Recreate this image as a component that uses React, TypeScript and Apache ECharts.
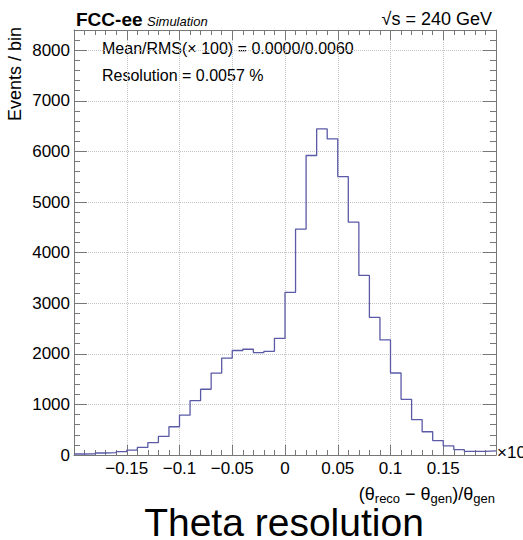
import React, { useEffect, useRef } from "react";
import * as echarts from "echarts";

// ---- data ----
const binLowEdges = [
  -0.2, -0.19, -0.18, -0.17, -0.16, -0.15, -0.14, -0.13, -0.12, -0.11,
  -0.1, -0.09, -0.08, -0.07, -0.06, -0.05, -0.04, -0.03, -0.02, -0.01,
  0.0, 0.01, 0.02, 0.03, 0.04, 0.05, 0.06, 0.07, 0.08, 0.09,
  0.1, 0.11, 0.12, 0.13, 0.14, 0.15, 0.16, 0.17, 0.18, 0.19,
];
const binWidth = 0.01;
const binCounts = [
  20, 25, 40, 45, 65, 95, 150, 245, 367, 558,
  788, 1075, 1300, 1620, 1915, 2065, 2090, 2025, 2050, 2305,
  3215, 4465, 5920, 6444, 6248, 5503, 4601, 3549, 2719, 2275,
  1621, 1100, 700, 460, 285, 180, 105, 70, 70, 80,
];
const xTickValues = [-0.15, -0.1, -0.05, 0, 0.05, 0.1, 0.15];
const xTickLabels = ["\u22120.15", "\u22120.1", "\u22120.05", "0", "0.05", "0.1", "0.15"];
const yTickValues = [0, 1000, 2000, 3000, 4000, 5000, 6000, 7000, 8000];
const yTickLabels = ["0", "1000", "2000", "3000", "4000", "5000", "6000", "7000", "8000"];

const FONT = "'Liberation Sans', Arial, Helvetica, sans-serif";
const AXIS_COLOR = "#777777";
const GRID_COLOR = "#c4c4c4";
const HIST_COLOR = "#5a5aa6";

export default function App() {
  const ref = useRef<HTMLDivElement>(null);

  useEffect(() => {
    if (!ref.current) return;
    const chart = echarts.init(ref.current, undefined, { renderer: "svg" });

    const stepPoints: [number, number][] = [];
    binLowEdges.forEach((lo, i) => {
      stepPoints.push([lo, binCounts[i]]);
      stepPoints.push([lo + binWidth, binCounts[i]]);
    });

    const xLabel = (v: number) => {
      const i = xTickValues.findIndex((t) => Math.abs(t - v) < 1e-9);
      return i >= 0 ? xTickLabels[i] : "";
    };
    const yLabel = (v: number) => {
      const i = yTickValues.findIndex((t) => Math.abs(t - v) < 1e-6);
      return i >= 0 ? yTickLabels[i] : "";
    };

    const xCommon = {
      type: "value" as const,
      min: -0.2,
      max: 0.2,
      interval: 0.05,
      axisLine: { show: true, onZero: false, lineStyle: { color: AXIS_COLOR, width: 1 } },
      axisTick: { show: true, inside: true, length: 10, lineStyle: { color: AXIS_COLOR } },
      minorTick: { show: true, splitNumber: 5, length: 5, lineStyle: { color: AXIS_COLOR } },
    };
    const yRange = { type: "value" as const, min: 0, max: 8400 };

    const option: any = {
      animation: false,
      backgroundColor: "#ffffff",
      grid: { left: 74, right: 27, top: 30, bottom: 85, containLabel: false },
      xAxis: [
        {
          ...xCommon,
          position: "bottom",
          splitLine: { show: true, lineStyle: { color: GRID_COLOR, type: "dotted", width: 1 } },
          axisLabel: {
            show: true,
            formatter: xLabel,
            showMinLabel: false,
            showMaxLabel: false,
            margin: 5,
            fontSize: 17,
            color: "#000",
            fontFamily: FONT,
          },
        },
        {
          ...xCommon,
          position: "top",
          splitLine: { show: false },
          axisLabel: { show: false },
        },
      ],
      yAxis: [
        {
          ...yRange,
          position: "left",
          interval: 1000,
          offset: 0,
          axisLine: { show: true, onZero: false, lineStyle: { color: AXIS_COLOR, width: 1 } },
          axisTick: { show: true, inside: true, length: 13, lineStyle: { color: AXIS_COLOR } },
          splitLine: { show: true, lineStyle: { color: GRID_COLOR, type: "dotted", width: 1 } },
          axisLabel: {
            show: true,
            formatter: yLabel,
            showMaxLabel: false,
            margin: 4,
            fontSize: 17,
            color: "#000",
            fontFamily: FONT,
          },
        },
        {
          ...yRange,
          position: "left",
          interval: 200,
          offset: 0,
          axisLine: { show: false, onZero: false },
          axisTick: { show: true, inside: true, length: 6, lineStyle: { color: AXIS_COLOR } },
          splitLine: { show: false },
          axisLabel: { show: false },
        },
        {
          ...yRange,
          position: "right",
          interval: 1000,
          offset: 0,
          axisLine: { show: true, onZero: false, lineStyle: { color: AXIS_COLOR, width: 1 } },
          axisTick: { show: true, inside: true, length: 13, lineStyle: { color: AXIS_COLOR } },
          splitLine: { show: false },
          axisLabel: { show: false },
        },
        {
          ...yRange,
          position: "right",
          interval: 200,
          offset: 0,
          axisLine: { show: false, onZero: false },
          axisTick: { show: true, inside: true, length: 6, lineStyle: { color: AXIS_COLOR } },
          splitLine: { show: false },
          axisLabel: { show: false },
        },
      ],
      series: [
        {
          type: "line",
          xAxisIndex: 0,
          yAxisIndex: 0,
          data: stepPoints,
          showSymbol: false,
          symbol: "none",
          lineStyle: { color: HIST_COLOR, width: 1.3 },
          z: 5,
        },
      ],
      graphic: [
        {
          type: "text",
          x: 76,
          y: 19,
          style: {
            text: "FCC-ee",
            fontSize: 19,
            fontWeight: "bold",
            fontFamily: FONT,
            fill: "#000",
            align: "left",
            verticalAlign: "middle",
          },
        },
        {
          type: "text",
          x: 147,
          y: 21.5,
          style: {
            text: "Simulation",
            fontSize: 13,
            fontStyle: "italic",
            fontFamily: FONT,
            fill: "#000",
            align: "left",
            verticalAlign: "middle",
          },
        },
        {
          type: "text",
          x: 492,
          y: 19,
          style: {
            text: "\u221As = 240 GeV",
            fontSize: 18,
            fontFamily: FONT,
            fill: "#000",
            align: "right",
            verticalAlign: "middle",
          },
        },
        {
          type: "text",
          x: 102,
          y: 48,
          style: {
            text: "Mean/RMS(\u00D7 100) = 0.0000/0.0060",
            fontSize: 16,
            fontFamily: FONT,
            fill: "#000",
            align: "left",
            verticalAlign: "middle",
          },
        },
        {
          type: "text",
          x: 102,
          y: 75,
          style: {
            text: "Resolution = 0.0057 %",
            fontSize: 16,
            fontFamily: FONT,
            fill: "#000",
            align: "left",
            verticalAlign: "middle",
          },
        },
        {
          type: "text",
          x: 15,
          y: 27,
          rotation: Math.PI / 2,
          style: {
            text: "Events / bin",
            fontSize: 18,
            fontFamily: FONT,
            fill: "#000",
            align: "right",
            verticalAlign: "middle",
          },
        },
        {
          type: "text",
          x: 497,
          y: 452,
          style: {
            text: "\u00D710",
            fontSize: 17,
            fontFamily: FONT,
            fill: "#000",
            align: "left",
            verticalAlign: "middle",
          },
        },
        {
          type: "text",
          x: 495,
          y: 485,
          style: {
            text: "{m|(\u03B8}{s|reco}{m| \u2212 \u03B8}{s|gen}{m|)/\u03B8}{s|gen}",
            fontSize: 18,
            fontFamily: FONT,
            fill: "#000",
            align: "right",
            verticalAlign: "top",
            rich: {
              m: {
                fontSize: 18,
                fontFamily: FONT,
                fill: "#000",
                lineHeight: 20,
                verticalAlign: "top",
              },
              s: {
                fontSize: 13,
                fontFamily: FONT,
                fill: "#000",
                lineHeight: 13,
                verticalAlign: "bottom",
              },
            },
          },
        },
        {
          type: "text",
          x: 284,
          y: 522,
          style: {
            text: "Theta resolution",
            fontSize: 39,
            lineHeight: 30,
            fontFamily: FONT,
            fill: "#000",
            align: "center",
            verticalAlign: "middle",
          },
        },
      ],
    };

    chart.setOption(option);
    return () => chart.dispose();
  }, []);

  return (
    <div
      ref={ref}
      style={{ position: "fixed", left: 0, top: 0, width: 523, height: 540, background: "#fff" }}
    />
  );
}
